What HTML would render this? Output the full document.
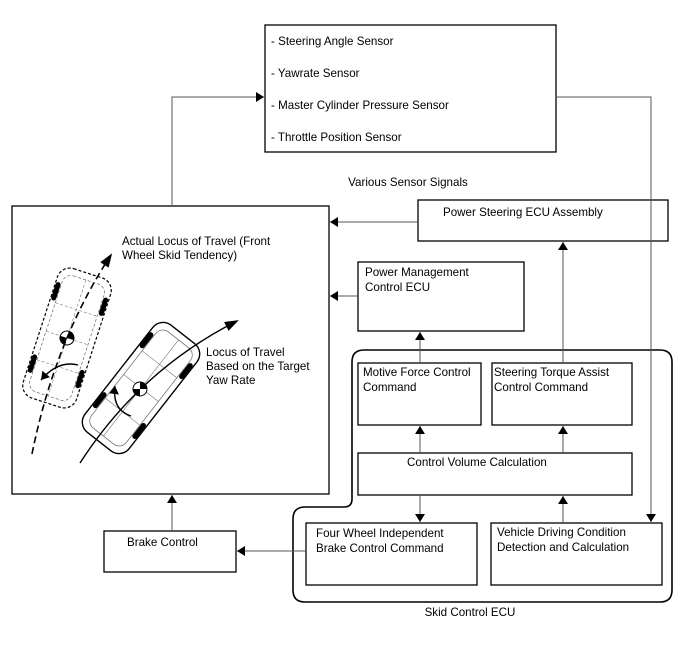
<!DOCTYPE html>
<html><head><meta charset="utf-8"><style>
body{margin:0;background:#fff;}
svg{display:block;font-family:"Liberation Sans",Arial,sans-serif;font-size:11.6px;}
</style></head><body>
<svg width="688" height="658" viewBox="0 0 688 658" xmlns="http://www.w3.org/2000/svg">
<defs>
<marker id="a" markerWidth="8" markerHeight="10" refX="8" refY="5" orient="auto" markerUnits="userSpaceOnUse">
<path d="M0,0 L8,5 L0,10 z" fill="#000"/></marker>
<marker id="b" markerWidth="14" markerHeight="10" refX="12" refY="5" orient="auto" markerUnits="userSpaceOnUse">
<path d="M0,0 L14,5 L0,10 z" fill="#000"/></marker>
</defs>
<g fill="none" stroke="#000" stroke-width="1.3">
<rect x="265" y="25" width="291" height="127"/>
<rect x="12" y="206" width="317" height="288"/>
<rect x="418" y="200" width="250" height="41"/>
<rect x="358" y="262" width="166" height="69"/>
<path d="M364,350 H660 Q672,350 672,362 V590 Q672,602 660,602 H305 Q293,602 293,590 V519 Q293,507 305,507 H344 Q352,507 352,499 V362 Q352,350 364,350 Z" stroke-width="1.6"/>
<rect x="358" y="363" width="123" height="62"/>
<rect x="492" y="363" width="140" height="62"/>
<rect x="358" y="453" width="274" height="42"/>
<rect x="306" y="523" width="171" height="62"/>
<rect x="491" y="523" width="171" height="62"/>
<rect x="104" y="531" width="132" height="41"/>
</g>
<g fill="none" stroke="#555" stroke-width="1">
<path d="M172,206 V97 H264" marker-end="url(#a)"/>
<path d="M556,97 H651 V522" marker-end="url(#a)"/>
<path d="M418,222 H330" marker-end="url(#a)"/>
<path d="M358,296 H330" marker-end="url(#a)"/>
<path d="M420,363 V332" marker-end="url(#a)"/>
<path d="M563,363 V242" marker-end="url(#a)"/>
<path d="M420,453 V426" marker-end="url(#a)"/>
<path d="M563,453 V426" marker-end="url(#a)"/>
<path d="M420,495 V522" marker-end="url(#a)"/>
<path d="M563,523 V496" marker-end="url(#a)"/>
<path d="M306,551 H237" marker-end="url(#a)"/>
<path d="M172,531 V495" marker-end="url(#a)"/>
</g>
<!-- dashed car -->
<g transform="translate(67,338) rotate(18)">
<rect x="-28" y="-68" width="56" height="136" rx="13" fill="none" stroke="#000" stroke-width="1.2" stroke-dasharray="3,2"/>
<rect x="-22" y="-61" width="44" height="122" rx="9" fill="none" stroke="#666" stroke-width="0.7" stroke-dasharray="3,2"/>
<path d="M-22,-30 H22 M-22,0 H22 M-22,30 H22 M0,-61 V61" stroke="#777" stroke-width="0.6" stroke-dasharray="3,2"/>
<g stroke="#000" stroke-width="5" stroke-linecap="round">
<path d="M-25,-48 V-34 M25,-48 V-34 M-25,28 V42 M25,28 V42"/></g>
<circle r="7" fill="#fff" stroke="#000"/><path d="M0,-7 A7,7 0 0 1 7,0 L0,0Z M0,7 A7,7 0 0 1 -7,0 L0,0Z" fill="#000"/>
</g>
<path d="M32,454 Q55,340 111,255" fill="none" stroke="#000" stroke-width="1.6" stroke-dasharray="7,4" marker-end="url(#b)"/>
<path d="M78,365 Q58,360 41,380" fill="none" stroke="#000" stroke-width="1.4" marker-end="url(#a)"/>
<!-- solid car -->
<g transform="translate(141,388) rotate(38)">
<rect x="-28" y="-68" width="56" height="136" rx="13" fill="#fff" stroke="#000" stroke-width="1.4"/>
<rect x="-22" y="-61" width="44" height="122" rx="9" fill="none" stroke="#666" stroke-width="0.7"/>
<path d="M-22,-30 H22 M-22,0 H22 M-22,30 H22 M0,-61 V61" stroke="#777" stroke-width="0.6"/>
<g stroke="#000" stroke-width="5" stroke-linecap="round">
<path d="M-25,-48 V-34 M25,-48 V-34 M-25,28 V42 M25,28 V42"/></g>
</g>
<path d="M80,463 Q140,370 237,321" fill="none" stroke="#000" stroke-width="1.4" marker-end="url(#b)"/>
<g transform="translate(140,389)"><circle r="7" fill="#fff" stroke="#000"/><path d="M0,-7 A7,7 0 0 1 7,0 L0,0Z M0,7 A7,7 0 0 1 -7,0 L0,0Z" fill="#000"/></g>
<path d="M131,416 Q112,410 115,386" fill="none" stroke="#000" stroke-width="1.4" marker-end="url(#a)"/>
<g fill="#000">
<text x="271" y="45">- Steering Angle Sensor</text>
<text x="271" y="77">- Yawrate Sensor</text>
<text x="271" y="109">- Master Cylinder Pressure Sensor</text>
<text x="271" y="141">- Throttle Position Sensor</text>
<text x="408" y="186" text-anchor="middle">Various Sensor Signals</text>
<text x="443" y="216">Power Steering ECU Assembly</text>
<text x="365" y="276">Power Management</text>
<text x="365" y="291">Control ECU</text>
<text x="363" y="376">Motive Force Control</text>
<text x="363" y="391">Command</text>
<text x="494" y="376">Steering Torque Assist</text>
<text x="494" y="391">Control Command</text>
<text x="407" y="466">Control Volume Calculation</text>
<text x="316" y="537">Four Wheel Independent</text>
<text x="316" y="552">Brake Control Command</text>
<text x="497" y="536">Vehicle Driving Condition</text>
<text x="497" y="551">Detection and Calculation</text>
<text x="127" y="546">Brake Control</text>
<text x="470" y="616" text-anchor="middle">Skid Control ECU</text>
<text x="122" y="245">Actual Locus of Travel (Front</text>
<text x="122" y="259">Wheel Skid Tendency)</text>
<text x="206" y="356">Locus of Travel</text>
<text x="206" y="370">Based on the Target</text>
<text x="206" y="384">Yaw Rate</text>
</g>
</svg>
</body></html>
